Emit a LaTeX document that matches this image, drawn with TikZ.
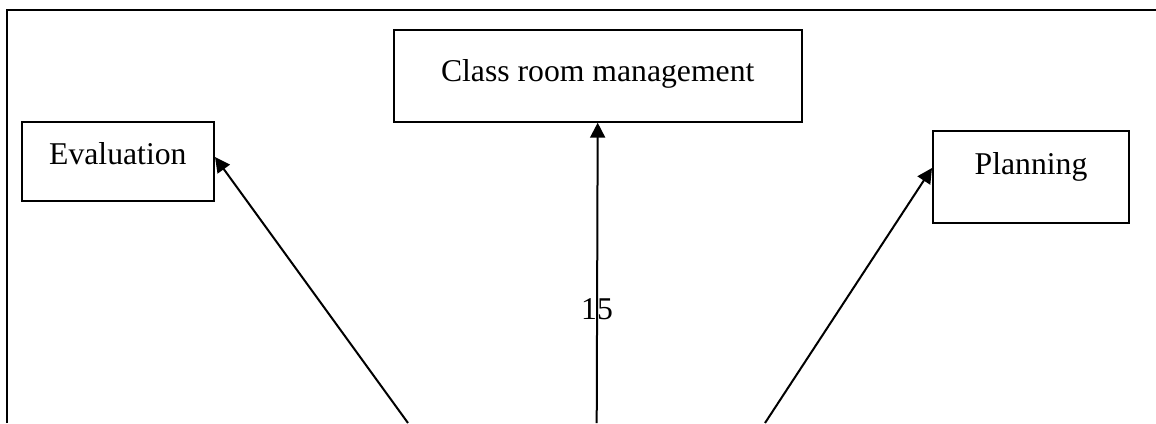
\documentclass[tikz,border=0pt]{standalone}
\usepackage{fontspec}
\setmainfont{Liberation Serif}
\usetikzlibrary{arrows.meta}
\begin{document}
\begin{tikzpicture}[x=1pt,y=-1pt,
  box/.style={draw,line width=2pt,inner xsep=0pt,inner ysep=0pt,anchor=north west,align=center,
    font=\fontsize{31.7}{38}\selectfont},
  conn/.style={line width=2pt,-{Triangle[length=15pt,width=15pt]}},
  frameline/.style={line width=2pt}]
\useasboundingbox (0,0) rectangle (1156,423);
% outer frame (top and left)
\coordinate (fl) at (7,423);
\coordinate (ftl) at (7,10);
\coordinate (ftr) at (1156,10);
\draw[frameline] (fl) -- (ftl) -- (ftr);
% boxes
\node[box,minimum width=192.3pt,text height=42pt,text depth=37pt] (eval) at (20.7,121) {Evaluation};
\node[box,minimum width=408pt,text height=50.7pt,text depth=40.7pt] (class) at (392.7,29.3) {Class room management};
\node[box,minimum width=196pt,text height=43pt,text depth=49pt] (plan) at (932,130) {Planning};
% page number
\node[font=\fontsize{31.7}{38}\selectfont,anchor=base,inner sep=0pt] (num) at (597,319) {15};
% connectors
\coordinate (sl) at (408,423);
\coordinate (sm) at (596.7,423);
\coordinate (sr) at (765,423);
\draw[conn] (sl) -- ([yshift=4.5pt]eval.east);
\draw[conn] (sm) -- (class.south);
\draw[conn] (sr) -- ([yshift=9pt]plan.west);
\end{tikzpicture}
\end{document}
